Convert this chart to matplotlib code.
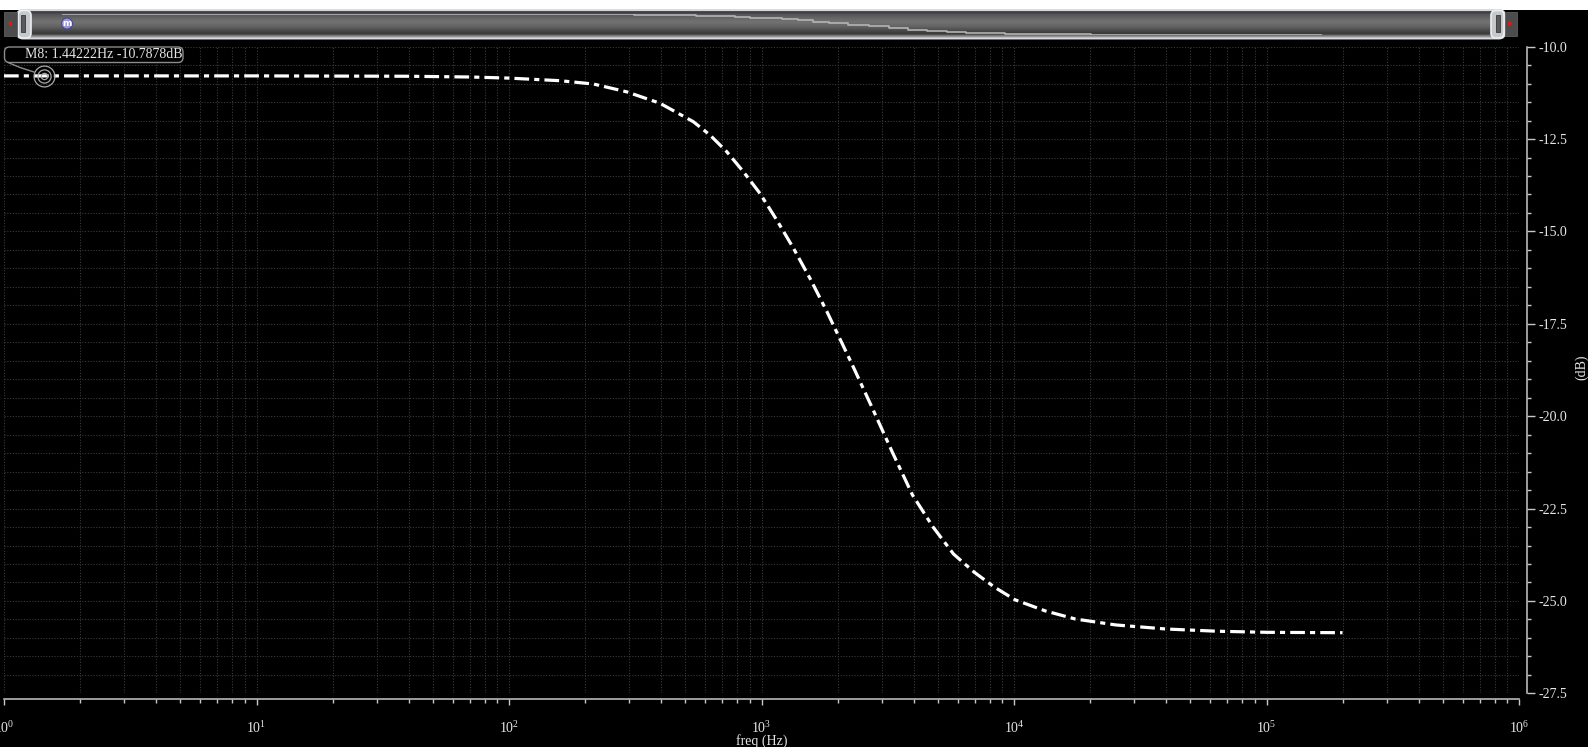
import numpy as np
import matplotlib
matplotlib.use('Agg')
import matplotlib.pyplot as plt
from matplotlib.patches import FancyBboxPatch, Rectangle, Polygon, Circle
from matplotlib.ticker import FixedLocator, FuncFormatter, LogLocator, MultipleLocator, NullFormatter

# ---------------- data ----------------
freq_hz = [1, 10, 40, 70, 100, 159, 216, 292, 396, 537, 625, 728, 847, 986, 1149,
           1337, 1556, 1813, 2260, 2730, 3290, 3960, 4780, 5760, 6950, 8380, 10100,
           13300, 17500, 25300, 40000, 63500, 101000, 200000]
gain_db = [-10.79, -10.79, -10.80, -10.82, -10.85, -10.92, -11.01, -11.22, -11.53,
           -12.03, -12.39, -12.84, -13.38, -13.97, -14.69, -15.45, -16.27, -17.16,
           -18.53, -19.74, -20.96, -22.13, -23.0, -23.73, -24.22, -24.63, -24.97,
           -25.27, -25.49, -25.65, -25.76, -25.82, -25.85, -25.86]
marker_f = 1.44222
marker_db = -10.7878
marker_label = "M8: 1.44222Hz -10.7878dB"
x_decades = [0, 1, 2, 3, 4, 5, 6]
y_major_ticks = [-27.5, -25.0, -22.5, -20.0, -17.5, -15.0, -12.5, -10.0]
x_label = "freq (Hz)"
y_label = "(dB)"

# ---------------- style ----------------
plt.rcParams['font.family'] = ['Liberation Serif', 'DejaVu Serif']
plt.rcParams['mathtext.fontset'] = 'custom'
plt.rcParams['mathtext.rm'] = 'Liberation Serif'

W, H = 1588, 747
fig = plt.figure(figsize=(W / 100, H / 100), dpi=100, facecolor='black')


def fx(px):
    return px / W


def fy(py):
    return 1 - py / H


AX_COL = '#c8c8c8'
TXT_COL = '#e6e6e6'

ax = fig.add_axes([fx(4), fy(693.3), fx(1519) - fx(4), fy(46.7) - fy(693.3)])
ax.set_facecolor('black')
ax.set_xscale('log')
ax.set_xlim(10 ** x_decades[0], 10 ** x_decades[-1])
ax.set_ylim(y_major_ticks[0], y_major_ticks[-1])

ax.plot(freq_hz, gain_db, color='white', lw=2.3, dashes=(4.6, 1.6, 1.6, 1.6),
        dash_capstyle='butt', zorder=4, clip_on=False)

# marker rings
for ms in (15, 9.5, 4.5):
    ax.plot(marker_f, marker_db, 'o', ms=ms, mfc='none', mec='#a8a8a8', mew=0.9,
            zorder=6, clip_on=False)

# ticks
ax.xaxis.set_major_locator(FixedLocator([10.0 ** d for d in x_decades]))
ax.xaxis.set_minor_locator(LogLocator(base=10, subs=np.arange(2, 10), numticks=100))
ax.xaxis.set_major_formatter(FuncFormatter(lambda v, p: r'$\mathregular{10^{%d}}$' % round(np.log10(v))))
ax.xaxis.set_minor_formatter(NullFormatter())
ax.yaxis.set_major_locator(FixedLocator(y_major_ticks))
ax.yaxis.set_minor_locator(MultipleLocator(0.5))
ax.yaxis.set_major_formatter(FuncFormatter(lambda v, p: '%.1f' % v))
ax.yaxis.tick_right()

ax.grid(which='both', axis='both', color='#3a3a3a', linestyle=(0, (1, 1.5)), lw=0.8)
ax.set_axisbelow(True)

for s in ('top', 'left'):
    ax.spines[s].set_visible(False)
ax.spines['right'].set_position(('outward', 5.8))
ax.spines['right'].set_bounds(y_major_ticks[0], y_major_ticks[-1])
ax.spines['bottom'].set_position(('outward', 4.1))
for s in ('right', 'bottom'):
    ax.spines[s].set_color(AX_COL)
    ax.spines[s].set_linewidth(1.1)

ax.tick_params(axis='y', which='major', direction='out', length=5.5, width=1,
               color=AX_COL, labelcolor=TXT_COL, labelsize=10, pad=2.5)
ax.tick_params(axis='y', which='minor', direction='out', length=3.2, width=1, color=AX_COL)
ax.tick_params(axis='x', which='major', direction='out', length=4.5, width=1,
               color=AX_COL, labelcolor=TXT_COL, labelsize=10, pad=10.5)
ax.tick_params(axis='x', which='minor', direction='out', length=3, width=1, color=AX_COL)

fig.text(fx(762), fy(734), x_label, ha='center', va='top', color=TXT_COL, fontsize=10)
fig.text(fx(1582), fy(367), y_label, ha='center', va='center', rotation=90,
         color=TXT_COL, fontsize=10)

# ---------------- overlay: scrollbar + marker label ----------------
ov = fig.add_axes([0, 0, 1, 1], zorder=10)
ov.patch.set_alpha(0)
ov.axis('off')

ov.add_patch(Rectangle((0, 0), W, 9.5, color='white', lw=0))

prof_y = [9, 10, 11, 12.5, 14, 18, 22, 27, 31, 34, 35.5, 37, 38.5]
prof_v = [0.86, 0.80, 0.30, 0.24, 0.33, 0.40, 0.45, 0.38, 0.28, 0.22, 0.45, 0.62, 0.66]
rows = np.linspace(9, 39, 90)
vals = np.interp(rows, prof_y, prof_v)
img = np.repeat(vals[:, None], 2, axis=1)
im = ov.imshow(img, cmap='gray', vmin=0, vmax=1, extent=[17, 1505, 39, 9],
               aspect='auto', interpolation='bilinear')
bar = FancyBboxPatch((17, 10), 1488, 28.5, boxstyle='round,pad=0,rounding_size=6',
                     fc='none', ec='#d6dae0', lw=1.4)
ov.add_patch(bar)
im.set_clip_path(bar)

# caps with slots
for cx, sx in ((18, 21), (1491, 1495.5)):
    ov.add_patch(FancyBboxPatch((cx, 10.5), 13, 27.5, boxstyle='round,pad=0,rounding_size=5',
                                fc='#c6c8cc', ec='#eceef2', lw=1.2))
    ov.add_patch(Rectangle((sx, 15), 4, 17, fc='#5a5a5a', ec='#383838', lw=0.6))

# arrow buttons
ov.add_patch(Rectangle((4, 12), 13, 24, fc='#4c4c4c', ec='#5e5e5e', lw=0.6))
ov.add_patch(Polygon([(7, 23.5), (12, 20.8), (12, 26.2)], closed=True, fc='#e01818', lw=0))
ov.add_patch(Rectangle((1505, 12), 12, 24, fc='#4c4c4c', ec='#5e5e5e', lw=0.6))
ov.add_patch(Polygon([(1513, 23.5), (1508, 20.8), (1508, 26.2)], closed=True, fc='#e01818', lw=0))

# "m" icon
ov.add_patch(Circle((67, 23.5), 5.5, fc='#9a98d6', ec='#4a4890', lw=0.8))
ov.text(67, 23.2, 'm', ha='center', va='center', color='white', fontsize=6.5,
        family=['DejaVu Sans'], fontweight='bold')

# marker label
ov.add_patch(FancyBboxPatch((4.5, 47), 178.5, 15.5, boxstyle='round,pad=0,rounding_size=5',
                            fc='black', ec='#8c8c8c', lw=1))
ov.text(25, 55, marker_label, ha='left', va='center', color=TXT_COL, fontsize=10)
ov.plot([8, 20, 34], [62.5, 67.5, 72], color='#8c8c8c', lw=1)

ov.set_xlim(0, W)
ov.set_ylim(H, 0)

# overview trace inside the scrollbar
ovw = fig.add_axes([fx(62), fy(35), fx(1322) - fx(62), fy(14) - fy(35)], zorder=11)
ovw.patch.set_alpha(0)
ovw.axis('off')
ovw.set_xscale('log')
ovw.plot(freq_hz, gain_db, color='#b4b4b4', lw=1.2, drawstyle='steps-mid')
ovw.set_xlim(min(freq_hz), max(freq_hz))
ovw.set_ylim(min(gain_db), max(gain_db))

fig.savefig('out.png', dpi=100, facecolor='black')
